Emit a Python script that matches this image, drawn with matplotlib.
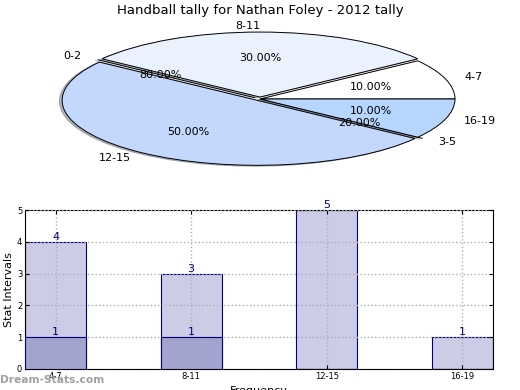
import matplotlib
matplotlib.use('Agg')
import matplotlib.pyplot as plt
import numpy as np

# pie data (counter-clockwise from 0 degrees)
pie_labels = ["4-7", "8-11", "0-2", "12-15", "3-5", "16-19"]
pie_values = [10, 30, 0, 50, 0, 10]
pie_pct_text = ["10.00%", "30.00%", "80.00%", "50.00%", "20.00%", "10.00%"]
pie_colors = ["#ffffff", "#eaf1ff", "#dde8ff", "#c4d8fd", "#c8dcff", "#b6d6ff"]
pie_explode = [0, 0.03, 0.03, 0.025, 0.03, 0]

# bar data
bar_cats = ["4-7", "8-11", "12-15", "16-19"]
bar_total = [4, 3, 5, 1]
bar_inner = [1, 1, 0, 0]

fig = plt.figure(figsize=(5.2, 3.9), dpi=100)
fig.suptitle("Handball tally for Nathan Foley - 2012 tally", fontsize=9.5, y=0.99)

# pie, squashed (axes not equal aspect)
ax1 = fig.add_axes([45.5 / 520, 1 - 170.5 / 390, 429 / 520, 143 / 390])
pct_iter = iter(pie_pct_text)
wedges, texts, autotexts = ax1.pie(pie_values, labels=pie_labels, colors=pie_colors,
                                   explode=pie_explode,
                                   shadow=dict(ox=-0.01, oy=-0.01, shade=0.5),
                                   autopct=lambda p: next(pct_iter),
                                   wedgeprops=dict(edgecolor="black", linewidth=0.7),
                                   textprops=dict(fontsize=8))
ax1.set_aspect("auto")
ax1.set_xlim(-1.1, 1.1)
ax1.set_ylim(-1.1, 1.1)
ax1.axis("off")
for w in wedges:
    w.set_clip_on(False)
for t in texts + autotexts:
    t.set_clip_on(False)

# bars
ax2 = fig.add_axes([25 / 520, 1 - 369 / 390, 468 / 520, 159 / 390])
x = np.arange(len(bar_cats))
width = 0.45
ax2.bar(x, bar_total, width, color="#cccce6", edgecolor="#000080", linewidth=0.8, zorder=2)
ax2.bar(x, bar_inner, width, color="#a3a3cf", edgecolor="#000080", linewidth=0.8, zorder=3)
for xi, v in zip(x, bar_total):
    ax2.text(xi, v, str(v), ha="center", va="bottom", color="#000080", fontsize=8, zorder=5)
for xi, v in zip(x, bar_inner):
    if v:
        ax2.text(xi, v, str(v), ha="center", va="bottom", color="#000080", fontsize=8, zorder=5)
ax2.set_xlim(-0.225, 3.225)
ax2.set_ylim(0, 5)
ax2.set_xticks(x)
ax2.set_xticklabels(bar_cats, fontsize=6)
ax2.set_yticks(range(6))
ax2.tick_params(axis="y", labelsize=6)
ax2.tick_params(direction="in", length=3, top=True, right=True, pad=2)
ax2.grid(True, linestyle=":", color="#b0b0b0", linewidth=1, zorder=4)
ax2.set_axisbelow(False)
ax2.set_xlabel("Frequency", fontsize=8, labelpad=4)
ax2.set_ylabel("Stat Intervals", fontsize=8, labelpad=2)

fig.text(0.0, 0.013, "Dream-Stats.com", fontsize=7.7, color="#a0a0a0", fontweight="bold",
         ha="left", va="bottom")

fig.savefig("out.png", dpi=100)
